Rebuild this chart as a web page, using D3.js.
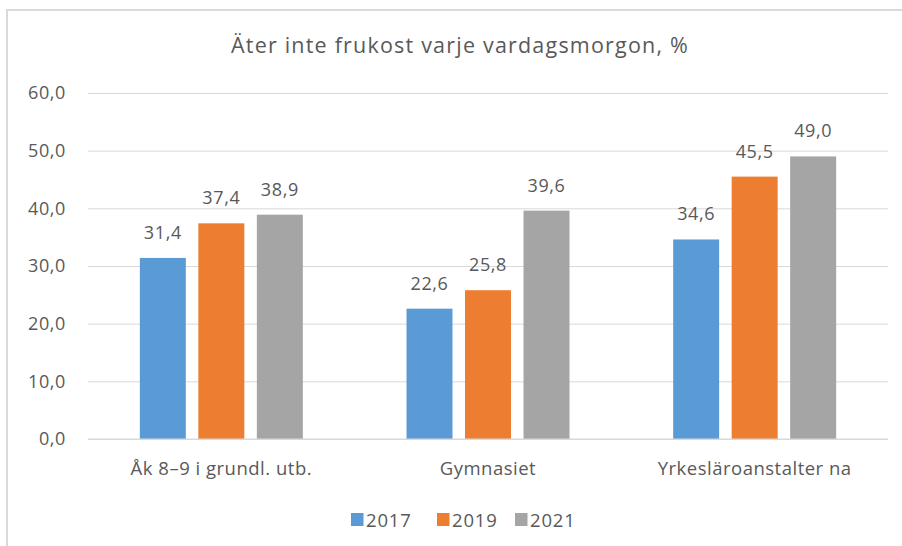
<!DOCTYPE html>
<html>
<head>
<meta charset="utf-8">
<script src="https://cdn.jsdelivr.net/npm/d3@7"></script>
<style>
  html, body { margin: 0; padding: 0; background: #fff; }
  svg { display: block; font-family: "Open Sans", "Liberation Sans", sans-serif; }
</style>
</head>
<body>
<svg id="chart" width="902" height="546"></svg>
<script>
const categories = ["Åk 8–9 i grundl. utb.", "Gymnasiet", "Yrkesläroanstalter na"];
const years = ["2017", "2019", "2021"];
const values2017 = [31.4, 22.6, 34.6];
const values2019 = [37.4, 25.8, 45.5];
const values2021 = [38.9, 39.6, 49.0];
const yTicks = [0, 10, 20, 30, 40, 50, 60];
const colors = ["#5b9bd5", "#ed7d31", "#a5a5a5"];
const title = "Äter inte frukost varje vardagsmorgon, %";

const seriesValues = [values2017, values2019, values2021];
const svg = d3.select("#chart");
const W = 902, H = 546;
const margin = { left: 88, right: 14, top: 93, bottom: 107 };
const fmt = v => d3.format(".1f")(v).replace(".", ",");
const textColor = "#595959";

// chart area border (left and top edges)
svg.append("line").attr("x1", 7).attr("x2", 7).attr("y1", 9.5).attr("y2", H)
  .attr("stroke", "#d9d9d9").attr("stroke-width", 2);
svg.append("line").attr("x1", 6).attr("x2", W).attr("y1", 10).attr("y2", 10)
  .attr("stroke", "#d9d9d9").attr("stroke-width", 2);

const x0 = d3.scaleBand().domain(categories).range([margin.left, W - margin.right]).paddingInner(0).paddingOuter(0);
const x1 = d3.scaleBand().domain(years).range([0, x0.bandwidth()]).paddingInner(0.214).paddingOuter(0.886);
const y = d3.scaleLinear().domain([0, 60]).range([H - margin.bottom, margin.top]);

// gridlines and y tick labels
const yAxis = d3.axisLeft(y).tickValues(yTicks).tickSize(-(W - margin.left - margin.right)).tickFormat(fmt).tickPadding(22);
const gy = svg.append("g").attr("transform", `translate(${margin.left},0)`).call(yAxis);
gy.select(".domain").remove();
gy.selectAll(".tick line").attr("stroke", "#d9d9d9").attr("stroke-width", 1);
gy.selectAll(".tick text").attr("fill", textColor).attr("font-size", 18)
  .attr("letter-spacing", 0.6).attr("font-family", "'Open Sans', sans-serif");

// title
svg.append("text").attr("x", 460).attr("y", 53).attr("text-anchor", "middle")
  .attr("fill", textColor).attr("font-size", 21.5).attr("letter-spacing", 1.2).text(title);

// bars
const groups = svg.append("g").selectAll("g").data(categories).join("g")
  .attr("transform", d => `translate(${x0(d)},0)`);
groups.selectAll("rect").data((d, i) => years.map((yr, j) => ({ yr, v: seriesValues[j][i], c: colors[j] })))
  .join("rect")
  .attr("x", d => x1(d.yr)).attr("width", x1.bandwidth())
  .attr("y", d => y(d.v)).attr("height", d => y(0) - y(d.v))
  .attr("fill", d => d.c);
groups.selectAll("text.val").data((d, i) => years.map((yr, j) => ({ yr, v: seriesValues[j][i] })))
  .join("text").attr("class", "val")
  .attr("x", d => x1(d.yr) + x1.bandwidth() / 2).attr("y", d => y(d.v) - 19)
  .attr("text-anchor", "middle").attr("fill", textColor).attr("font-size", 18)
  .attr("letter-spacing", 0.6)
  .text(d => fmt(d.v));

// x axis baseline and labels
svg.append("line").attr("x1", margin.left).attr("x2", W - margin.right)
  .attr("y1", y(0)).attr("y2", y(0)).attr("stroke", "#d9d9d9").attr("stroke-width", 1);
svg.append("g").selectAll("text").data(categories).join("text")
  .attr("x", d => x0(d) + x0.bandwidth() / 2).attr("y", y(0) + 36)
  .attr("text-anchor", "middle").attr("fill", textColor).attr("font-size", 18.5)
  .attr("letter-spacing", 0.5)
  .text(d => d);

// legend
const legendX = [351, 437, 515];
const lg = svg.append("g").selectAll("g").data(years).join("g")
  .attr("transform", (d, i) => `translate(${legendX[i]},513)`);
lg.append("rect").attr("width", 12.5).attr("height", 13).attr("fill", (d, i) => colors[i]);
lg.append("text").attr("x", 15).attr("y", 13.5).attr("fill", textColor).attr("font-size", 18.5)
  .attr("letter-spacing", 0.8).text(d => d);
</script>
</body>
</html>
